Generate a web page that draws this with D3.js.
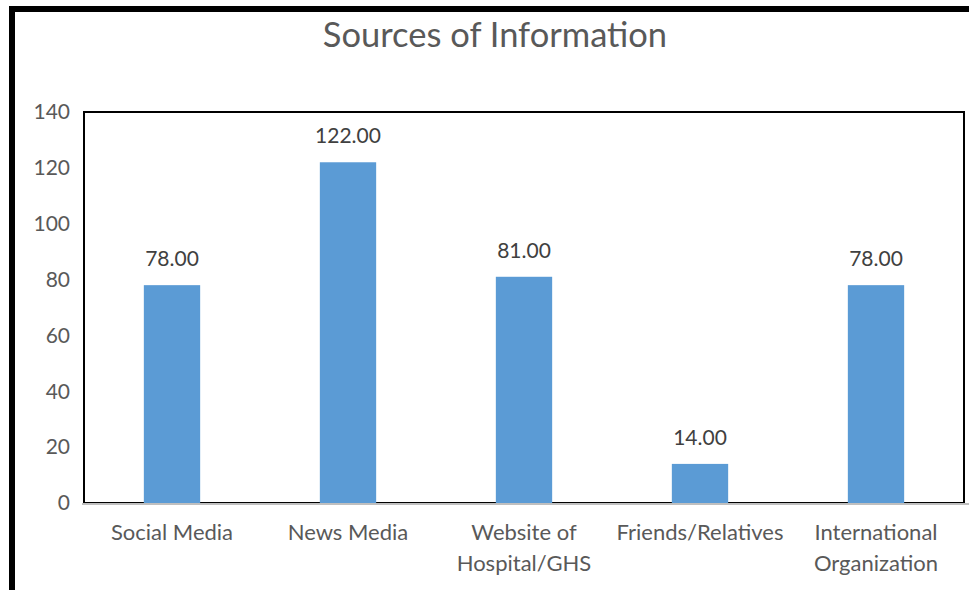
<!DOCTYPE html>
<html>
<head>
<meta charset="utf-8">
<script src="https://cdn.jsdelivr.net/npm/d3@7"></script>
<style>
  body { margin: 0; background: #fff; }
  text { font-family: Lato, "Open Sans", sans-serif; }
</style>
</head>
<body>
<svg id="chart"></svg>
<script>
const categories = [['Social Media'], ['News Media'], ['Website of', 'Hospital/GHS'], ['Friends/Relatives'], ['International', 'Organization']];
const values = [78, 122, 81, 14, 78];
const yTicks = [0, 20, 40, 60, 80, 100, 120, 140];

const width = 969, height = 590;
const plot = {left: 84, right: 964, top: 112, bottom: 503};

const svg = d3.select('#chart').attr('width', width).attr('height', height);

// outer frame (left + top thick black edges)
svg.append('rect').attr('x', 9).attr('y', 6).attr('width', 6).attr('height', height - 6).attr('fill', '#000');
svg.append('rect').attr('x', 9).attr('y', 6).attr('width', width - 9).attr('height', 6).attr('fill', '#000');

const x = d3.scaleBand()
    .domain(categories.map((d, i) => i))
    .range([plot.left, plot.right])
    .paddingInner(0.68)
    .paddingOuter(0.34);
const y = d3.scaleLinear().domain([0, 140]).range([plot.bottom, plot.top]);

// plot area border
svg.append('rect')
    .attr('x', plot.left).attr('y', plot.top)
    .attr('width', plot.right - plot.left).attr('height', plot.bottom - plot.top)
    .attr('fill', 'none').attr('stroke', '#000').attr('stroke-width', 2);

svg.append('text')
    .attr('x', 495).attr('y', 47)
    .attr('text-anchor', 'middle')
    .attr('font-size', 34.5).attr('fill', '#595959')
    .text('Sources of Information');

// y axis labels
svg.selectAll('.ytick')
    .data(yTicks)
    .enter().append('text')
    .attr('x', 70)
    .attr('y', d => y(d))
    .attr('dy', '0.35em')
    .attr('text-anchor', 'end')
    .attr('font-size', 21).attr('fill', '#595959')
    .text(d => d);

// bars
svg.selectAll('.bar')
    .data(values)
    .enter().append('rect')
    .attr('x', (d, i) => x(i))
    .attr('y', d => y(d))
    .attr('width', x.bandwidth())
    .attr('height', d => y(0) - y(d))
    .attr('fill', '#5b9bd5');

// x axis line
svg.append('line')
    .attr('x1', plot.left - 2).attr('x2', width)
    .attr('y1', plot.bottom + 1).attr('y2', plot.bottom + 1)
    .attr('stroke', '#bfbfbf').attr('stroke-width', 2);

// data labels
svg.selectAll('.label')
    .data(values)
    .enter().append('text')
    .attr('x', (d, i) => x(i) + x.bandwidth() / 2)
    .attr('y', d => y(d) - 19)
    .attr('text-anchor', 'middle')
    .attr('font-size', 21).attr('fill', '#404040')
    .text(d => d.toFixed(2));

// category labels
const cat = svg.selectAll('.cat')
    .data(categories)
    .enter().append('text')
    .attr('text-anchor', 'middle')
    .attr('font-size', 22).attr('fill', '#595959');
cat.selectAll('tspan')
    .data((d, i) => d.map(t => ({t: t, i: i})))
    .enter().append('tspan')
    .attr('x', d => x(d.i) + x.bandwidth() / 2)
    .attr('y', (d, j) => 540 + j * 31)
    .text(d => d.t);
</script>
</body>
</html>
